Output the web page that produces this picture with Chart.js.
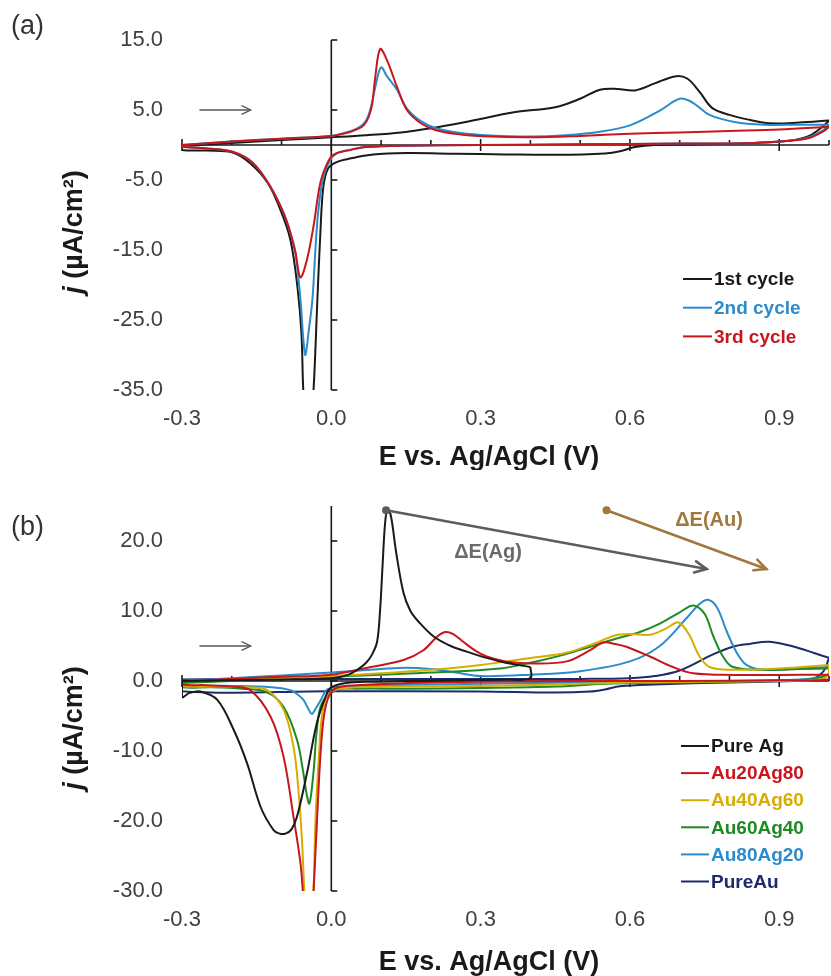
<!DOCTYPE html>
<html><head><meta charset="utf-8">
<script src="https://cdn.jsdelivr.net/npm/chart.js@4.4.0/dist/chart.umd.min.js"></script>
<style>
html,body{margin:0;padding:0;background:#fff;}
#wrap{position:relative;width:831px;height:976px;overflow:hidden;}
canvas{position:absolute;left:0;}
</style></head><body>
<div id="wrap">
<canvas id="ca" width="831" height="470" style="top:0"></canvas>
<canvas id="cb" width="831" height="506" style="top:470px"></canvas>
</div>
<script>
// ---------- tick values ----------
const xTickVals = [-0.3, 0.0, 0.3, 0.6, 0.9];
const xMinorVals = [-0.2, -0.1, 0.1, 0.2, 0.4, 0.5, 0.7, 0.8, 1.0];
const aYTicks = [-35, -25, -15, -5, 5, 15];
const bYTicks = [-30, -20, -10, 0, 10, 20];

// ---------- panel (a): cycles (forward sweep F, reverse sweep R) ----------
const aLabels = ['1st cycle', '2nd cycle', '3rd cycle'];
const a1FE = [-0.30,-0.20,-0.10,0.00,0.07,0.14,0.20,0.27,0.37,0.45,0.50,0.54,0.575,0.61,0.65,0.69,0.715,0.74,0.765,0.80,0.84,0.88,0.94,1.00];
const a1FJ = [-0.2,0.3,0.7,1.1,1.4,1.8,2.4,3.3,4.7,5.4,6.6,7.9,8.0,7.8,8.8,9.8,9.5,7.6,5.3,4.3,3.6,3.1,3.2,3.5];
const a1RE = [0.99,0.96,0.92,0.85,0.75,0.65,0.61,0.58,0.55,0.45,0.35,0.25,0.15,0.08,0.04,0.012,-0.006,-0.016,-0.022,-0.028,-0.036,-0.046,-0.056,-0.060,-0.068,-0.082,-0.102,-0.128,-0.163,-0.197,-0.25,-0.30,-0.30];
const a1RJ = [2.8,1.3,0.6,0.3,0.1,0.0,-0.3,-0.9,-1.2,-1.4,-1.35,-1.25,-1.15,-1.4,-1.9,-2.4,-3.3,-6.0,-12.6,-22.1,-35.4,-44,-35.4,-26.9,-20.3,-13.6,-9.3,-5.4,-2.6,-1.1,-0.8,-0.7,-0.2];
const a2FE = [-0.30,-0.20,-0.10,0.00,0.03,0.055,0.07,0.08,0.09,0.10,0.112,0.132,0.152,0.18,0.21,0.26,0.32,0.40,0.47,0.54,0.60,0.66,0.70,0.725,0.76,0.81,0.87,0.94,1.00];
const a2FJ = [0.0,0.5,0.9,1.3,1.8,2.5,3.5,5.5,8.8,11.1,9.8,7.9,5.2,3.4,2.4,1.7,1.35,1.2,1.4,1.9,2.8,4.9,6.6,6.1,4.3,3.3,2.9,2.9,2.9];
const a2RE = [0.99,0.96,0.92,0.85,0.70,0.50,0.30,0.15,0.07,0.038,0.012,-0.002,-0.016,-0.026,-0.032,-0.038,-0.046,-0.052,-0.056,-0.062,-0.072,-0.082,-0.096,-0.122,-0.157,-0.197,-0.25,-0.30,-0.30];
const a2RJ = [2.2,1.1,0.6,0.3,0.2,0.1,0.0,-0.1,-0.3,-0.7,-1.14,-2.1,-4.6,-9.3,-15.0,-22.1,-26.9,-30.0,-27.9,-22.1,-15.4,-12.6,-9.7,-6.0,-2.6,-1.0,-0.5,-0.24,0.0];
const a3FE = [-0.30,-0.20,-0.10,0.00,0.03,0.05,0.065,0.075,0.082,0.088,0.098,0.112,0.132,0.152,0.18,0.21,0.26,0.32,0.40,0.50,0.60,0.70,0.80,0.90,1.00];
const a3FJ = [0.0,0.5,0.9,1.3,1.7,2.2,2.8,4.0,5.8,9.5,13.7,12.1,8.3,5.0,3.1,2.1,1.5,1.2,1.1,1.3,1.6,1.8,2.0,2.2,2.6];
const a3RE = [0.99,0.96,0.92,0.85,0.70,0.50,0.30,0.15,0.07,0.038,0.004,-0.008,-0.022,-0.036,-0.049,-0.062,-0.072,-0.082,-0.096,-0.122,-0.157,-0.197,-0.25,-0.30,-0.30];
const a3RJ = [2.0,1.0,0.6,0.3,0.2,0.1,0.0,-0.1,-0.3,-0.7,-1.4,-2.6,-5.4,-11.7,-16.4,-18.9,-15.4,-12.6,-9.7,-6.0,-2.6,-1.0,-0.5,-0.24,0.0];

// ---------- panel (b): compositions ----------
const bLabels = ['Pure Ag', 'Au20Ag80', 'Au40Ag60', 'Au60Ag40', 'Au80Ag20', 'PureAu'];
const b1FE = [-0.30,-0.20,-0.10,0.00,0.03,0.052,0.07,0.082,0.092,0.098,0.103,0.108,0.113,0.12,0.13,0.145,0.159,0.175,0.205,0.24,0.272,0.312,0.35,0.40];
const b1FJ = [0.0,0.1,0.2,0.4,0.8,1.6,2.6,3.8,5.6,10.1,16.5,22.5,24.6,23.5,18.5,12.6,10.0,8.5,6.4,5.0,4.2,3.3,2.6,2.0];
const b1RE = [0.40,0.35,0.25,0.15,0.08,0.03,0.00,-0.009,-0.029,-0.049,-0.069,-0.080,-0.092,-0.104,-0.116,-0.142,-0.169,-0.196,-0.229,-0.263,-0.285,-0.30,-0.30];
const b1RJ = [0.4,0.2,0.1,0.0,-0.1,-0.3,-0.9,-1.8,-6.0,-13.2,-19.4,-21.2,-21.8,-21.8,-21.3,-18.0,-11.8,-7.0,-2.7,-1.5,-1.7,-2.3,0.0];
const b2FE = [-0.30,-0.20,-0.10,0.00,0.08,0.145,0.185,0.212,0.229,0.245,0.265,0.29,0.312,0.35,0.405,0.473,0.52,0.546,0.57,0.593,0.64,0.686,0.727,0.807,0.90,1.00];
const b2FJ = [0.0,0.3,0.6,0.9,2.0,3.0,4.4,6.3,7.0,6.7,5.6,4.3,3.5,2.8,2.5,2.8,4.4,5.5,5.3,4.9,3.5,2.0,1.1,0.86,0.86,0.9];
const b2RE = [1.00,0.98,0.90,0.70,0.50,0.30,0.15,0.05,0.01,-0.005,-0.015,-0.022,-0.029,-0.036,-0.046,-0.057,-0.062,-0.076,-0.096,-0.122,-0.163,-0.20,-0.25,-0.30,-0.30];
const b2RJ = [0.3,0.1,0.1,0.0,0.0,-0.1,-0.3,-0.6,-1.0,-2.2,-5.1,-10.8,-20.3,-30.5,-42,-30.3,-26.0,-19.4,-10.8,-5.1,-1.3,-0.8,-0.6,-0.5,0.0];
const b3FE = [-0.30,-0.20,-0.10,0.00,0.10,0.20,0.30,0.40,0.47,0.53,0.57,0.60,0.64,0.67,0.695,0.705,0.72,0.74,0.76,0.80,0.90,1.00];
const b3FJ = [0.0,0.2,0.4,0.7,1.1,1.6,2.3,3.3,4.0,5.4,6.5,6.7,6.6,7.4,8.4,8.0,6.5,3.5,2.0,1.6,1.8,2.3];
const b3RE = [1.00,0.98,0.90,0.75,0.60,0.45,0.30,0.15,0.05,0.01,-0.009,-0.019,-0.025,-0.032,-0.036,-0.045,-0.054,-0.059,-0.066,-0.076,-0.096,-0.129,-0.17,-0.22,-0.30,-0.30];
const b3RJ = [1.0,0.2,0.0,-0.1,-0.2,-0.5,-0.7,-0.8,-0.9,-1.2,-2.2,-5.1,-10.8,-20.3,-30.5,-40,-30.3,-22.7,-15.6,-9.4,-4.1,-1.3,-0.9,-0.8,-0.7,0.0];
const b4FE = [-0.30,-0.20,-0.10,0.00,0.10,0.20,0.34,0.40,0.47,0.52,0.57,0.62,0.66,0.70,0.727,0.75,0.767,0.787,0.807,0.87,0.94,1.00];
const b4FJ = [-0.3,0.0,0.3,0.6,0.9,1.2,1.8,2.6,3.8,4.9,6.0,7.0,8.2,9.8,10.8,9.6,6.5,3.5,2.0,1.6,1.7,1.8];
const b4RE = [1.00,0.96,0.85,0.70,0.55,0.45,0.30,0.15,0.05,0.01,-0.019,-0.029,-0.036,-0.044,-0.050,-0.056,-0.069,-0.096,-0.13,-0.18,-0.24,-0.30,-0.30];
const b4RJ = [1.0,0.2,0.0,-0.2,-0.4,-0.8,-1.0,-1.1,-1.1,-1.3,-3.2,-7.0,-13.2,-17.5,-16.0,-13.2,-8.4,-3.7,-1.6,-1.1,-0.9,-0.9,-0.3];
const b5FE = [-0.30,-0.20,-0.10,0.00,0.10,0.15,0.20,0.25,0.30,0.40,0.50,0.60,0.66,0.714,0.74,0.757,0.775,0.795,0.815,0.834,0.868,0.94,1.00];
const b5FJ = [0.0,0.4,0.8,1.2,1.7,1.9,1.7,1.2,0.7,0.9,1.4,2.8,5.0,9.0,11.0,11.6,10.5,7.0,4.0,2.3,1.6,1.8,2.0];
const b5RE = [1.00,0.97,0.90,0.60,0.30,0.10,0.02,0.00,-0.01,-0.021,-0.032,-0.039,-0.046,-0.056,-0.07,-0.082,-0.12,-0.20,-0.30,-0.30];
const b5RJ = [1.0,0.4,0.1,-0.1,-0.4,-0.6,-0.8,-1.0,-1.3,-2.7,-4.0,-4.7,-4.0,-2.7,-1.8,-1.3,-0.9,-0.7,-0.6,0.0];
const b6FE = [-0.30,-0.20,-0.10,0.00,0.10,0.20,0.30,0.40,0.50,0.60,0.65,0.70,0.767,0.807,0.84,0.88,0.93,0.97,1.00];
const b6FJ = [0.2,0.3,0.3,0.3,0.3,0.3,0.3,0.3,0.3,0.4,0.7,1.5,3.8,4.9,5.3,5.6,4.9,4.0,3.3];
const b6RE = [0.99,0.97,0.93,0.80,0.65,0.58,0.55,0.52,0.45,0.30,0.00,-0.30,-0.30];
const b6RJ = [1.5,0.4,0.0,-0.2,-0.5,-0.75,-1.2,-1.5,-1.65,-1.5,-1.45,-1.45,0.2];

// ---------- annotations (data units) ----------
const scanArrowE = [-0.265, -0.162];
const scanArrowJ = 5.0;
const dEAgFrom = [0.11, 24.4], dEAgTo = [0.754, 16.0], dEAgText = [0.315, 18.3];
const dEAuFrom = [0.553, 24.4], dEAuTo = [0.874, 16.0], dEAuText = [0.759, 22.9];

// ---------- styling ----------
const FONT = "'Liberation Sans', Arial, sans-serif";
const COL = {black:'#1a1a1a', blue:'#2a8ccc', red:'#c8161d', gold:'#d8ac00', green:'#1e8a24', navy:'#1d2a6c'};

function pts(E, J) { return E.map((e, i) => ({x: e, y: J[i]})); }
function lineDs(label, data, color, order, inLegend) {
  return {label, data, borderColor: color, backgroundColor: color, borderWidth: 2,
    pointRadius: 0, pointHoverRadius: 0, showLine: true, tension: 0.35, fill: false, order, inLegend};
}
// one CV loop = forward sweep + reverse sweep (reverse starts where forward ends)
function loop(label, FE, FJ, RE, RJ, color, order) {
  const fwd = pts(FE, FJ);
  const rev = [fwd[fwd.length - 1]].concat(pts(RE, RJ));
  return [lineDs(label, fwd, color, order, true), lineDs(label, rev, color, order, false)];
}

function line(ctx, x1, y1, x2, y2) { ctx.beginPath(); ctx.moveTo(x1, y1); ctx.lineTo(x2, y2); ctx.stroke(); }
function arrowHead(ctx, x1, y1, x2, y2, len) {
  const a = Math.atan2(y2 - y1, x2 - x1);
  ctx.beginPath();
  ctx.moveTo(x2 - len * Math.cos(a - 0.45), y2 - len * Math.sin(a - 0.45));
  ctx.lineTo(x2, y2);
  ctx.lineTo(x2 - len * Math.cos(a + 0.45), y2 - len * Math.sin(a + 0.45));
  ctx.stroke();
}

const decoPlugin = {
  id: 'cvDeco',
  beforeDatasetsDraw(chart, args, o) {
    const ctx = chart.ctx, xs = chart.scales.x, ys = chart.scales.y;
    const y0 = ys.getPixelForValue(0), x0 = xs.getPixelForValue(0);
    ctx.save();
    ctx.strokeStyle = '#1a1a1a'; ctx.lineWidth = 1.6;
    line(ctx, xs.getPixelForValue(xs.min), y0, xs.getPixelForValue(xs.max), y0);
    xMinorVals.forEach(v => { const p = xs.getPixelForValue(v); line(ctx, p, y0 - 5, p, y0); });
    xTickVals.forEach(v => { const p = xs.getPixelForValue(v); line(ctx, p, y0 - 6, p, y0 + 6); });
    line(ctx, x0, ys.getPixelForValue(ys.max), x0, ys.getPixelForValue(ys.min));
    o.yTicks.forEach(v => { const p = ys.getPixelForValue(v); line(ctx, x0, p, x0 + 6, p); });
    ctx.restore();
  },
  afterDraw(chart, args, o) {
    const ctx = chart.ctx, xs = chart.scales.x, ys = chart.scales.y;
    ctx.save();
    ctx.fillStyle = '#333'; ctx.font = `27px ${FONT}`; ctx.textBaseline = 'middle'; ctx.textAlign = 'left';
    ctx.fillText(o.panel, 11, o.panelY);
    ctx.fillStyle = '#1a1a1a'; ctx.font = `bold 27px ${FONT}`; ctx.textAlign = 'center';
    ctx.fillText('E vs. Ag/AgCl (V)', o.xTitleX, o.xTitleY);
    ctx.save();
    ctx.translate(o.yTitleX, o.yTitleY); ctx.rotate(-Math.PI / 2);
    ctx.textAlign = 'left';
    ctx.font = `italic bold 27px ${FONT}`; const wA = ctx.measureText('j').width;
    ctx.font = `bold 27px ${FONT}`; const wB = ctx.measureText(' (µA/cm²)').width;
    const st = -(wA + wB) / 2;
    ctx.font = `italic bold 27px ${FONT}`; ctx.fillText('j', st, 0);
    ctx.font = `bold 27px ${FONT}`; ctx.fillText(' (µA/cm²)', st + wA, 0);
    ctx.restore();
    ctx.strokeStyle = '#555'; ctx.lineWidth = 1.3;
    const ax1 = xs.getPixelForValue(scanArrowE[0]), ax2 = xs.getPixelForValue(scanArrowE[1]), ay = ys.getPixelForValue(scanArrowJ);
    line(ctx, ax1, ay, ax2, ay);
    arrowHead(ctx, ax1, ay, ax2, ay, 10);
    ctx.font = `bold 19px ${FONT}`; ctx.textAlign = 'left'; ctx.textBaseline = 'middle';
    chart.data.datasets.filter(d => d.inLegend).forEach((d, i) => {
      const y = o.legY + i * o.legDy;
      ctx.strokeStyle = d.borderColor; ctx.lineWidth = 2;
      line(ctx, o.legX, y, o.legX + o.legLen, y);
      ctx.fillStyle = d.borderColor;
      ctx.fillText(d.label, o.legX + o.legLen + 2, y + 1);
    });
    if (o.deltas) {
      o.deltas.forEach(dd => {
        const x1 = xs.getPixelForValue(dd.from[0]), y1 = ys.getPixelForValue(dd.from[1]);
        const x2 = xs.getPixelForValue(dd.to[0]), y2 = ys.getPixelForValue(dd.to[1]);
        ctx.strokeStyle = dd.color; ctx.fillStyle = dd.color; ctx.lineWidth = 2.6; ctx.lineCap = 'round';
        line(ctx, x1, y1, x2, y2);
        arrowHead(ctx, x1, y1, x2, y2, 13);
        ctx.beginPath(); ctx.arc(x1, y1, 4, 0, Math.PI * 2); ctx.fill();
        ctx.fillStyle = dd.textColor; ctx.font = `bold 20px ${FONT}`; ctx.textAlign = 'center';
        ctx.fillText(dd.label, xs.getPixelForValue(dd.text[0]), ys.getPixelForValue(dd.text[1]));
      });
    }
    ctx.restore();
  }
};

function axisCfg(yMin, yMax, yTicks, xHeight) {
  const tickFont = {family: FONT, size: 22};
  return {
    x: {type: 'linear', min: -0.3, max: 1.0, position: 'bottom',
      afterBuildTicks: s => { s.ticks = xTickVals.map(v => ({value: v})); },
      afterFit: s => { s.height = xHeight; },
      grid: {display: false, drawTicks: false}, border: {display: false},
      ticks: {font: tickFont, color: '#404040', padding: 16, maxRotation: 0, autoSkip: false,
        callback: v => Number(v).toFixed(1)}},
    y: {type: 'linear', min: yMin, max: yMax,
      afterBuildTicks: s => { s.ticks = yTicks.map(v => ({value: v})); },
      afterFit: s => { s.width = 182; },
      grid: {display: false, drawTicks: false}, border: {display: false},
      ticks: {font: tickFont, color: '#404040', padding: 19, autoSkip: false,
        callback: v => Number(v).toFixed(1)}}
  };
}

new Chart(document.getElementById('ca'), {
  type: 'scatter',
  data: {datasets: [].concat(
    loop(aLabels[0], a1FE, a1FJ, a1RE, a1RJ, COL.black, 3),
    loop(aLabels[1], a2FE, a2FJ, a2RE, a2RJ, COL.blue, 2),
    loop(aLabels[2], a3FE, a3FJ, a3RE, a3RJ, COL.red, 1)
  )},
  options: {
    responsive: false, animation: false, events: [],
    layout: {padding: {top: 40, right: 2, left: 0, bottom: 0}},
    plugins: {legend: {display: false}, tooltip: {enabled: false},
      cvDeco: {yTicks: aYTicks, panel: '(a)', panelY: 27, xTitleX: 489, xTitleY: 458,
        yTitleX: 75, yTitleY: 232, legX: 683, legY: 279, legDy: 28.7, legLen: 29}},
    scales: axisCfg(-35, 15, aYTicks, 80)
  },
  plugins: [decoPlugin]
});

new Chart(document.getElementById('cb'), {
  type: 'scatter',
  data: {datasets: [].concat(
    loop(bLabels[0], b1FE, b1FJ, b1RE, b1RJ, COL.black, 1),
    loop(bLabels[1], b2FE, b2FJ, b2RE, b2RJ, COL.red, 2),
    loop(bLabels[2], b3FE, b3FJ, b3RE, b3RJ, COL.gold, 3),
    loop(bLabels[3], b4FE, b4FJ, b4RE, b4RJ, COL.green, 4),
    loop(bLabels[4], b5FE, b5FJ, b5RE, b5RJ, COL.blue, 5),
    loop(bLabels[5], b6FE, b6FJ, b6RE, b6RJ, COL.navy, 6)
  )},
  options: {
    responsive: false, animation: false, events: [],
    layout: {padding: {top: 36, right: 2, left: 0, bottom: 0}},
    plugins: {legend: {display: false}, tooltip: {enabled: false},
      cvDeco: {yTicks: bYTicks, panel: '(b)', panelY: 58, xTitleX: 489, xTitleY: 493,
        yTitleX: 75, yTitleY: 258, legX: 681, legY: 276, legDy: 27.1, legLen: 28,
        deltas: [
          {from: dEAgFrom, to: dEAgTo, text: dEAgText, label: 'ΔE(Ag)', color: '#5c5c5c', textColor: '#6a6a6a'},
          {from: dEAuFrom, to: dEAuTo, text: dEAuText, label: 'ΔE(Au)', color: '#a3763b', textColor: '#a3763b'}
        ]}},
    scales: axisCfg(-30, 25, bYTicks, 85)
  },
  plugins: [decoPlugin]
});
</script>
</body></html>
